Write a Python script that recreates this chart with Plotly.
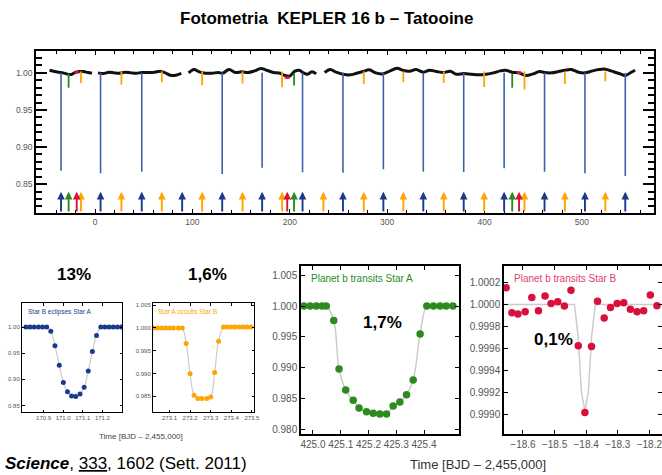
import plotly.graph_objects as go

W, H = 662, 475

# ---------------- data: top panel (Kepler-16 light curve) ----------------
lc_seg1_t = [-46.7, -41.5, -37.1, -32.8, -29.3, -24.9, -20.5, -16.2, -11.8, -7.4, -3.1]
lc_seg1_f = [1.0036, 1.0018, 1.0009, 1.0000, 0.9986, 0.9977, 1.0005, 1.0018, 1.0018, 1.0005, 0.9995]
lc_seg2_t = [3.1, 8.7, 14.4, 19.7, 24.9, 30.6, 37.1, 42.4, 48.0, 54.6, 61.1, 66.8, 72.1, 77.3, 83.0, 88.6]
lc_seg2_f = [1.0000, 0.9991, 1.0009, 1.0000, 0.9995, 1.0009, 1.0000, 0.9995, 1.0005, 1.0005, 1.0009, 1.0023,
             1.0000, 0.9968, 0.9968, 0.9995]
lc_seg3_t = [96.1, 101.7, 107.0, 113.5, 120.1, 126.6, 131.0, 137.6, 144.1, 150.7, 157.2, 163.8, 170.3, 176.0,
             183.4, 190.0, 195.2, 199.6, 205.2, 209.6, 214.0, 218.3, 222.7, 227.1]
lc_seg3_f = [1.0000, 1.0045, 1.0014, 0.9995, 0.9995, 1.0005, 0.9995, 1.0045, 1.0005, 1.0014, 1.0005, 1.0027,
             1.0059, 1.0036, 1.0005, 0.9995, 0.9964, 0.9955, 1.0023, 1.0036, 1.0000, 0.9982, 1.0014, 0.9986]
lc_seg4_t = [235.8, 241.5, 247.6, 254.6, 262.0, 268.6, 275.1, 281.7, 288.2, 294.8, 302.6, 310.0, 316.6, 323.1,
             329.7, 337.1, 343.7, 350.7, 358.1, 364.6, 371.2, 378.6, 386.5, 394.3, 401.7, 409.2, 416.2, 421.4,
             428.0, 435.4, 442.4, 449.8, 456.3, 461.6, 468.6, 476.0, 482.5, 489.1, 496.5, 503.1, 510.9, 517.5,
             524.0, 530.6, 538.4, 544.5, 550.2, 554.6]
lc_seg4_f = [1.0005, 1.0045, 1.0009, 0.9982, 0.9973, 0.9995, 1.0018, 1.0041, 1.0000, 0.9986, 1.0023, 1.0063,
             1.0032, 1.0023, 1.0045, 1.0009, 1.0036, 1.0018, 1.0005, 1.0023, 0.9982, 0.9991, 0.9982, 0.9973,
             0.9982, 1.0000, 1.0027, 1.0036, 1.0009, 1.0000, 0.9964, 0.9986, 1.0018, 1.0005, 1.0000, 1.0018,
             1.0036, 1.0045, 1.0009, 1.0000, 1.0027, 1.0045, 1.0050, 1.0023, 0.9991, 0.9964, 1.0005, 1.0036]

# primary eclipses (Star B eclipses Star A)
primary_t = [-34.9, 5.7, 48.0, 130.6, 171.6, 213.1, 254.6, 296.1, 337.1, 378.6, 420.1, 461.6, 503.1, 544.5]
primary_min = [0.8680, 0.8645, 0.8667, 0.8636, 0.8722, 0.8659, 0.8654, 0.8700, 0.8667, 0.8663, 0.8713,
               0.8667, 0.8645, 0.8609]
primary_arrow_t = [-34.9, 5.7, 48.0, 89.5, 130.6, 171.6, 213.1, 254.6, 296.1, 337.1, 378.6, 420.1, 461.6,
                   503.1, 544.5]
# secondary eclipses (Star A occults Star B)
secondary_t = [-14.4, 27.1, 68.6, 110.0, 151.5, 192.1, 276.0, 316.6, 358.1, 399.6, 441.0, 482.5, 524.0]
secondary_min = [0.9864, 0.9842, 0.9874, 0.9833, 0.9855, 0.9806, 0.9850, 0.9874, 0.9864, 0.9810, 0.9774,
                 0.9850, 0.9887]
secondary_arrow_t = [-14.4, 27.1, 68.6, 110.0, 151.5, 192.1, 234.5, 276.0, 316.6, 358.1, 399.6, 441.0,
                     482.5, 524.0]
# planet transits Star A
transitA_t = [-27.1, 204.4, 428.4]
transitA_min = [0.9800, 0.9830, 0.9800]
# planet transits Star B
transitB_t = [-18.8, 197.4, 435.4]
transitB_lvl = [1.0005, 0.9935, 1.0000]

# ---------------- data: zoom panels ----------------
p1_t = [170.810, 170.831, 170.852, 170.874, 170.895, 170.916, 170.937, 170.958, 170.980, 171.001, 171.022,
        171.043, 171.064, 171.086, 171.107, 171.128, 171.149, 171.170, 171.192, 171.213, 171.234, 171.255,
        171.276, 171.297]
p1_f = [1.000, 1.000, 1.000, 1.000, 1.000, 1.000, 0.992, 0.964, 0.927, 0.894, 0.876, 0.868, 0.867, 0.872,
        0.885, 0.916, 0.953, 0.984, 1.000, 1.000, 1.000, 1.000, 1.000, 1.000]

p2_t = [273.024, 273.043, 273.062, 273.081, 273.100, 273.119, 273.143, 273.162, 273.181, 273.200, 273.219,
        273.238, 273.257, 273.281, 273.300, 273.319, 273.338, 273.362, 273.381, 273.400, 273.419, 273.438,
        273.457, 273.476, 273.495]
p2_f = [1.0000, 1.0000, 1.0000, 1.0000, 1.0000, 1.0000, 1.0000, 1.0000, 0.9966, 0.9899, 0.9852, 0.9845,
        0.9845, 0.9845, 0.9848, 0.9902, 0.9971, 1.0002, 1.0002, 1.0002, 1.0002, 1.0002, 1.0002, 1.0002, 1.0002]

p3_t = [424.967, 424.990, 425.012, 425.033, 425.048, 425.075, 425.094, 425.118, 425.145, 425.166, 425.193,
        425.217, 425.241, 425.265, 425.289, 425.313, 425.337, 425.361, 425.386, 425.410, 425.434, 425.458,
        425.480, 425.504]
p3_f = [1.0000, 1.0000, 1.0000, 1.0000, 1.0000, 0.99763, 0.98978, 0.98634, 0.98468, 0.98344, 0.98280,
        0.98258, 0.98247, 0.98247, 0.98376, 0.98441, 0.98559, 0.98796, 0.99543, 1.0000, 1.0000, 1.0000,
        1.0000, 1.0000]

p4_t = [-18.653, -18.635, -18.616, -18.593, -18.572, -18.551, -18.530, -18.511, -18.490, -18.469, -18.448,
        -18.425, -18.404, -18.383, -18.364, -18.343, -18.323, -18.302, -18.281, -18.260, -18.239, -18.218,
        -18.197, -18.176]
p4_f = [1.000152, 0.999924, 0.999912, 0.999933, 1.000064, 0.999942, 1.000076, 1.000009, 1.000024, 0.999985,
        1.000130, 0.999624, 0.999015, 0.999618, 1.000030, 0.999876, 0.999973, 1.000009, 1.000015, 0.999955,
        0.999933, 0.999942, 1.000085, 0.999988]
p4_model_t = [-18.70, -18.437, -18.425, -18.415, -18.404, -18.393, -18.383, -18.371, -18.10]
p4_model_f = [1.0, 1.0, 0.99970, 0.99920, 0.99903, 0.99920, 0.99970, 1.0, 1.0]

# ---------------- styles ----------------
FONT = "Arial, Liberation Sans, sans-serif"
BLACK = "#000000"
BLUE_LINE = "#3d62ab"
BLUE_DARK = "#1c3a8c"
ORANGE = "#ffa500"
GREEN = "#2c8a1f"
RED = "#d8103c"
MODEL = "#cfcaca"
TICKC = "#555555"

fig = go.Figure()

# light curve with gaps
lc_t, lc_f = [], []
for ts, fs in [(lc_seg1_t, lc_seg1_f), (lc_seg2_t, lc_seg2_f), (lc_seg3_t, lc_seg3_f), (lc_seg4_t, lc_seg4_f)]:
    lc_t += ts + [None]
    lc_f += fs + [None]
fig.add_trace(go.Scatter(x=lc_t, y=lc_f, mode="lines", line=dict(color="#111111", width=3.0, shape="spline"),
                         connectgaps=False, xaxis="x", yaxis="y", hoverinfo="skip"))


def verticals(ts, top, bottoms):
    xs, ys = [], []
    for t, b in zip(ts, bottoms):
        xs += [t, t, None]
        ys += [top, b, None]
    return xs, ys


x, y = verticals(primary_t, 1.0, primary_min)
fig.add_trace(go.Scatter(x=x, y=y, mode="lines", line=dict(color=BLUE_LINE, width=1.6), xaxis="x", yaxis="y"))
x, y = verticals(secondary_t, 1.002, secondary_min)
fig.add_trace(go.Scatter(x=x, y=y, mode="lines", line=dict(color=ORANGE, width=1.8), xaxis="x", yaxis="y"))
x, y = verticals(transitA_t, 0.999, transitA_min)
fig.add_trace(go.Scatter(x=x, y=y, mode="lines", line=dict(color=GREEN, width=1.8), xaxis="x", yaxis="y"))
rx, ry = [], []
for t, lv in zip(transitB_t, transitB_lvl):
    rx += [t - 2.5, t, t + 2.5, None]
    ry += [lv + 0.0006, lv, lv + 0.0006, None]
fig.add_trace(go.Scatter(x=rx, y=ry, mode="lines", line=dict(color=RED, width=2.6), xaxis="x", yaxis="y"))

# zoom panels
fig.add_trace(go.Scatter(x=p1_t, y=p1_f, mode="lines", line=dict(color=MODEL, width=1.2, shape="spline"),
                         xaxis="x2", yaxis="y2"))
fig.add_trace(go.Scatter(x=p1_t, y=p1_f, mode="markers", marker=dict(color=BLUE_DARK, size=5),
                         xaxis="x2", yaxis="y2"))
fig.add_trace(go.Scatter(x=p2_t, y=p2_f, mode="lines", line=dict(color=MODEL, width=1.2, shape="spline"),
                         xaxis="x3", yaxis="y3"))
fig.add_trace(go.Scatter(x=p2_t, y=p2_f, mode="markers", marker=dict(color=ORANGE, size=5),
                         xaxis="x3", yaxis="y3"))
fig.add_trace(go.Scatter(x=p3_t, y=p3_f, mode="lines", line=dict(color=MODEL, width=1.5, shape="spline"),
                         xaxis="x4", yaxis="y4"))
fig.add_trace(go.Scatter(x=p3_t, y=p3_f, mode="markers", marker=dict(color=GREEN, size=7.5),
                         xaxis="x4", yaxis="y4"))
fig.add_trace(go.Scatter(x=p4_model_t, y=p4_model_f, mode="lines", line=dict(color=MODEL, width=1.5),
                         xaxis="x5", yaxis="y5"))
fig.add_trace(go.Scatter(x=p4_t, y=p4_f, mode="markers", marker=dict(color=RED, size=7.5),
                         xaxis="x5", yaxis="y5"))


def dx(a, b):
    return [a / W, b / W]


def dy(top, bottom):
    return [1 - bottom / H, 1 - top / H]


def axis(domain, rng, anchor, tickfont, ticklen, tickvals=None, fmt=None, dtick=None, tick0=None,
         minor=None, lw=1.2, tickwidth=1):
    d = dict(domain=domain, range=rng, anchor=anchor, showgrid=False, zeroline=False, showline=True,
             linecolor=BLACK, linewidth=lw, mirror="allticks", ticks="inside", ticklen=ticklen,
             tickwidth=tickwidth, tickcolor=BLACK, tickfont=dict(family=FONT, size=tickfont, color=TICKC),
             automargin=False, ticklabeloverflow="allow")
    if tickvals is not None:
        d["tickmode"] = "array"
        d["tickvals"] = tickvals
    else:
        d["tickmode"] = "linear"
        d["dtick"] = dtick
        d["tick0"] = tick0
    if fmt:
        d["tickformat"] = fmt
    if minor:
        d["minor"] = minor
    return d


layout = dict(
    width=W, height=H, margin=dict(l=0, r=0, t=0, b=0), showlegend=False,
    paper_bgcolor="white", plot_bgcolor="white",
    xaxis=axis(dx(36, 654), [-60.6, 574], "y", 8.5, 4, dtick=100, tick0=0,
               minor=dict(ticks="inside", ticklen=3, dtick=20, tick0=0, tickcolor=BLACK), lw=1.6),
    yaxis=axis(dy(51, 213), [0.811, 1.0295], "x", 8.5, 11, dtick=0.05, tick0=0, fmt=".2f",
               minor=dict(ticks="inside", ticklen=6, dtick=0.01, tick0=0, tickcolor=BLACK), lw=1.6,
               tickwidth=1.6),
    xaxis2=axis(dx(22, 122), [170.79, 171.30], "y2", 6, 2.5, tickvals=[170.9, 171.0, 171.1, 171.2], fmt=".1f",
                lw=1),
    yaxis2=axis(dy(303, 412), [0.8375, 1.046], "x2", 6, 2.5, tickvals=[0.85, 0.90, 0.95, 1.00], fmt=".2f", lw=1),
    xaxis3=axis(dx(153, 254), [273.02, 273.51], "y3", 6, 2.5,
                tickvals=[273.1, 273.2, 273.3, 273.4, 273.5], fmt=".1f", lw=1),
    yaxis3=axis(dy(303, 412), [0.9815, 1.0055], "x3", 6, 2.5,
                tickvals=[0.985, 0.990, 0.995, 1.000, 1.005], fmt=".3f", lw=1),
    xaxis4=axis(dx(301, 459), [424.957, 425.526], "y4", 10, 4,
                tickvals=[425.0, 425.1, 425.2, 425.3, 425.4], fmt=".1f", lw=1.5),
    yaxis4=axis(dy(266, 434), [0.9792, 1.0065], "x4", 10, 4,
                tickvals=[0.980, 0.985, 0.990, 0.995, 1.000, 1.005], fmt=".3f", lw=1.5),
    xaxis5=axis(dx(504, 662), [-18.66, -18.16], "y5", 10, 4,
                tickvals=[-18.6, -18.5, -18.4, -18.3, -18.2], fmt=".1f", lw=1.5),
    yaxis5=axis(dy(266, 434), [0.99882, 1.00035], "x5", 10, 4,
                tickvals=[0.9990, 0.9992, 0.9994, 0.9996, 0.9998, 1.0000, 1.0002], fmt=".4f", lw=1.5),
)
fig.update_layout(**layout)

# arrows marking each event on the top panel
for ts, col in [(primary_arrow_t, BLUE_DARK), (secondary_arrow_t, ORANGE), (transitA_t, GREEN),
                (transitB_t, RED)]:
    for t in ts:
        fig.add_annotation(x=t, y=0.8395, ax=t, ay=0.811, xref="x", yref="y", axref="x", ayref="y",
                           text="", showarrow=True, arrowhead=2, arrowsize=0.8, arrowwidth=1.9,
                           arrowcolor=col, standoff=0, startstandoff=0)


def txt(x, y, s, size, color=BLACK, xanchor="center"):
    fig.add_annotation(x=x / W, y=1 - y / H, xref="paper", yref="paper", text=s, showarrow=False,
                       xanchor=xanchor, yanchor="middle", font=dict(family=FONT, size=size, color=color))


txt(326, 18, "<b>Fotometria\u00a0 KEPLER 16 b – Tatooine</b>", 17)
txt(74, 274.5, "<b>13%</b>", 17)
txt(207, 274.5, "<b>1,6%</b>", 17)
txt(382.6, 322.5, "<b>1,7%</b>", 17)
txt(553.7, 339, "<b>0,1%</b>", 17)
txt(26, 311.7, "Star B eclipses Star A", 6.5, BLUE_DARK, "left")
txt(156, 311.7, "Star A occults Star B", 6.5, ORANGE, "left")
txt(309, 278, "Planet b transits Star A", 10, GREEN, "left")
txt(512, 278, "Planet b transits Star B", 10, "#e0406a", "left")
txt(141, 436, "Time [BJD – 2,455,000]", 8, "#444444")
txt(478, 464, "Time [BJD – 2,455,000]", 13, "#333333")
txt(3, 463, "<b><i>Science</i></b>, <u>333</u>, 1602 (Sett. 2011)", 17, BLACK, "left")

fig.write_html("out.html", config={"displayModeBar": False},
               post_script="document.body.style.margin='0px';")
